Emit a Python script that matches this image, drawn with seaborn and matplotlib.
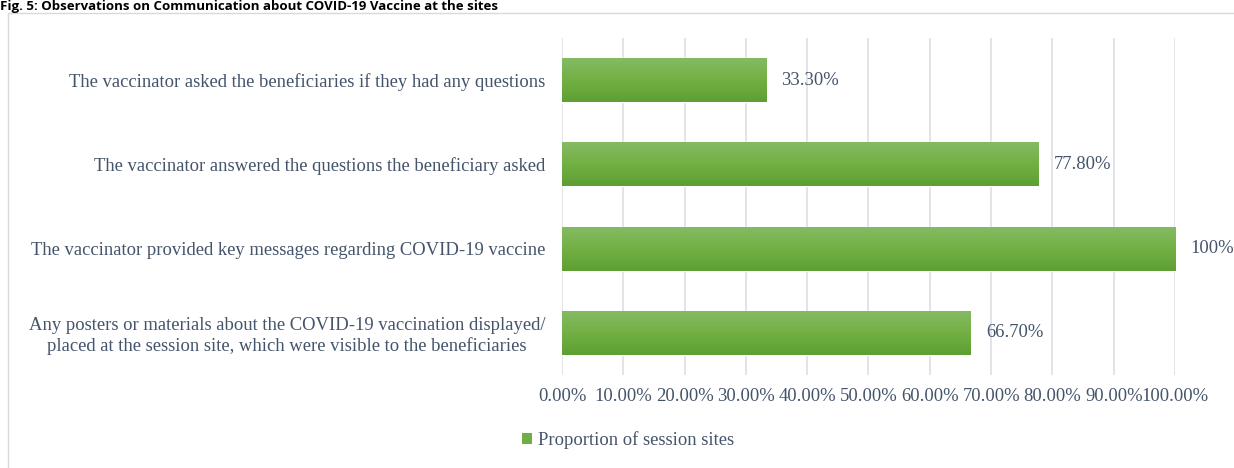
import matplotlib
matplotlib.use("Agg")
import matplotlib.pyplot as plt
import seaborn as sns
import numpy as np
import pandas as pd
from matplotlib.patches import Rectangle, Patch
from matplotlib.colors import LinearSegmentedColormap
from matplotlib.ticker import FuncFormatter

# data
categories = [
    "The vaccinator asked the beneficiaries if they had any questions",
    "The vaccinator answered the questions the beneficiary asked",
    "The vaccinator provided key messages regarding COVID-19 vaccine",
    "Any posters or materials about the COVID-19 vaccination displayed/\nplaced at the session site, which were visible to the beneficiaries",
]
values = [33.3, 77.8, 100.0, 66.7]
value_labels = ["33.30%", "77.80%", "100%", "66.70%"]
xticks = [0, 10, 20, 30, 40, 50, 60, 70, 80, 90, 100]
series_name = "Proportion of session sites"
title = "Fig. 5: Observations on Communication about COVID-19 Vaccine at the sites"

df = pd.DataFrame({"item": categories, "pct": values})

sns.set_style("white")
plt.rcParams["font.family"] = ["Liberation Serif", "DejaVu Serif"]

green = "#70AD47"
txt = "#44546A"
grid = "#DADDE4"
fs = 13.4

fig = plt.figure(figsize=(12.34, 4.68), dpi=100)
ax = fig.add_axes([0.4554, 0.1987, 0.4968, 0.7201])

sns.barplot(data=df, x="pct", y="item", orient="h", color=green,
            width=0.52, saturation=1, ax=ax, zorder=3)

# Excel-like vertical gradient on the bars (light top, darker bottom)
grad = LinearSegmentedColormap.from_list("g", ["#84BB62", "#72B043", "#5E9F33"])
for bar in ax.patches:
    x0, y0 = bar.get_x(), bar.get_y()
    w, h = bar.get_width(), bar.get_height()
    img = ax.imshow(np.linspace(0, 1, 64).reshape(-1, 1), cmap=grad,
                    aspect="auto", extent=(x0, x0 + w, y0 + h, y0),
                    origin="upper", zorder=4, interpolation="bilinear")
    img.set_clip_path(bar)

ax.set_xlim(0, 100)
ax.set_ylim(3.5, -0.5)
ax.set_xticks(xticks)
ax.xaxis.set_major_formatter(FuncFormatter(lambda v, p: f"{v:.2f}%"))
ax.grid(axis="x", color=grid, linewidth=1.1, zorder=0)
ax.grid(axis="y", visible=False)
for s in ax.spines.values():
    s.set_visible(False)
ax.set_xlabel("")
ax.set_ylabel("")
ax.tick_params(axis="both", length=0, labelsize=fs, colors=txt)
ax.tick_params(axis="x", pad=9)
ax.tick_params(axis="y", pad=12)
for lab in ax.get_yticklabels():
    lab.set_multialignment("center")

for i, (v, lab) in enumerate(zip(values, value_labels)):
    ax.annotate(lab, xy=(v, i), xytext=(11, 0), textcoords="offset points",
                ha="left", va="center", fontsize=fs, color=txt)

# chart frame
fig.patches.append(Rectangle((8 / 1234, -0.01), 1.05, 1 - 13 / 468 + 0.01,
                             transform=fig.transFigure, fill=False,
                             edgecolor="#D9D9D9", linewidth=1, zorder=0))

# figure title squeezed above the frame
fig.text(0.0, 1 - 10 / 468, title, ha="left", va="baseline", fontsize=9.5,
         fontweight="bold", family=["Open Sans", "DejaVu Sans"], color="black")

handle = Patch(facecolor=green, edgecolor="none")
fig.legend([handle], [series_name], loc="center left",
           bbox_to_anchor=(505 / 1234, 1 - 440 / 468), frameon=False,
           fontsize=fs, handlelength=0.55, handleheight=0.55, handletextpad=0.3,
           labelcolor=txt)

plt.savefig("out.png", dpi=100)
